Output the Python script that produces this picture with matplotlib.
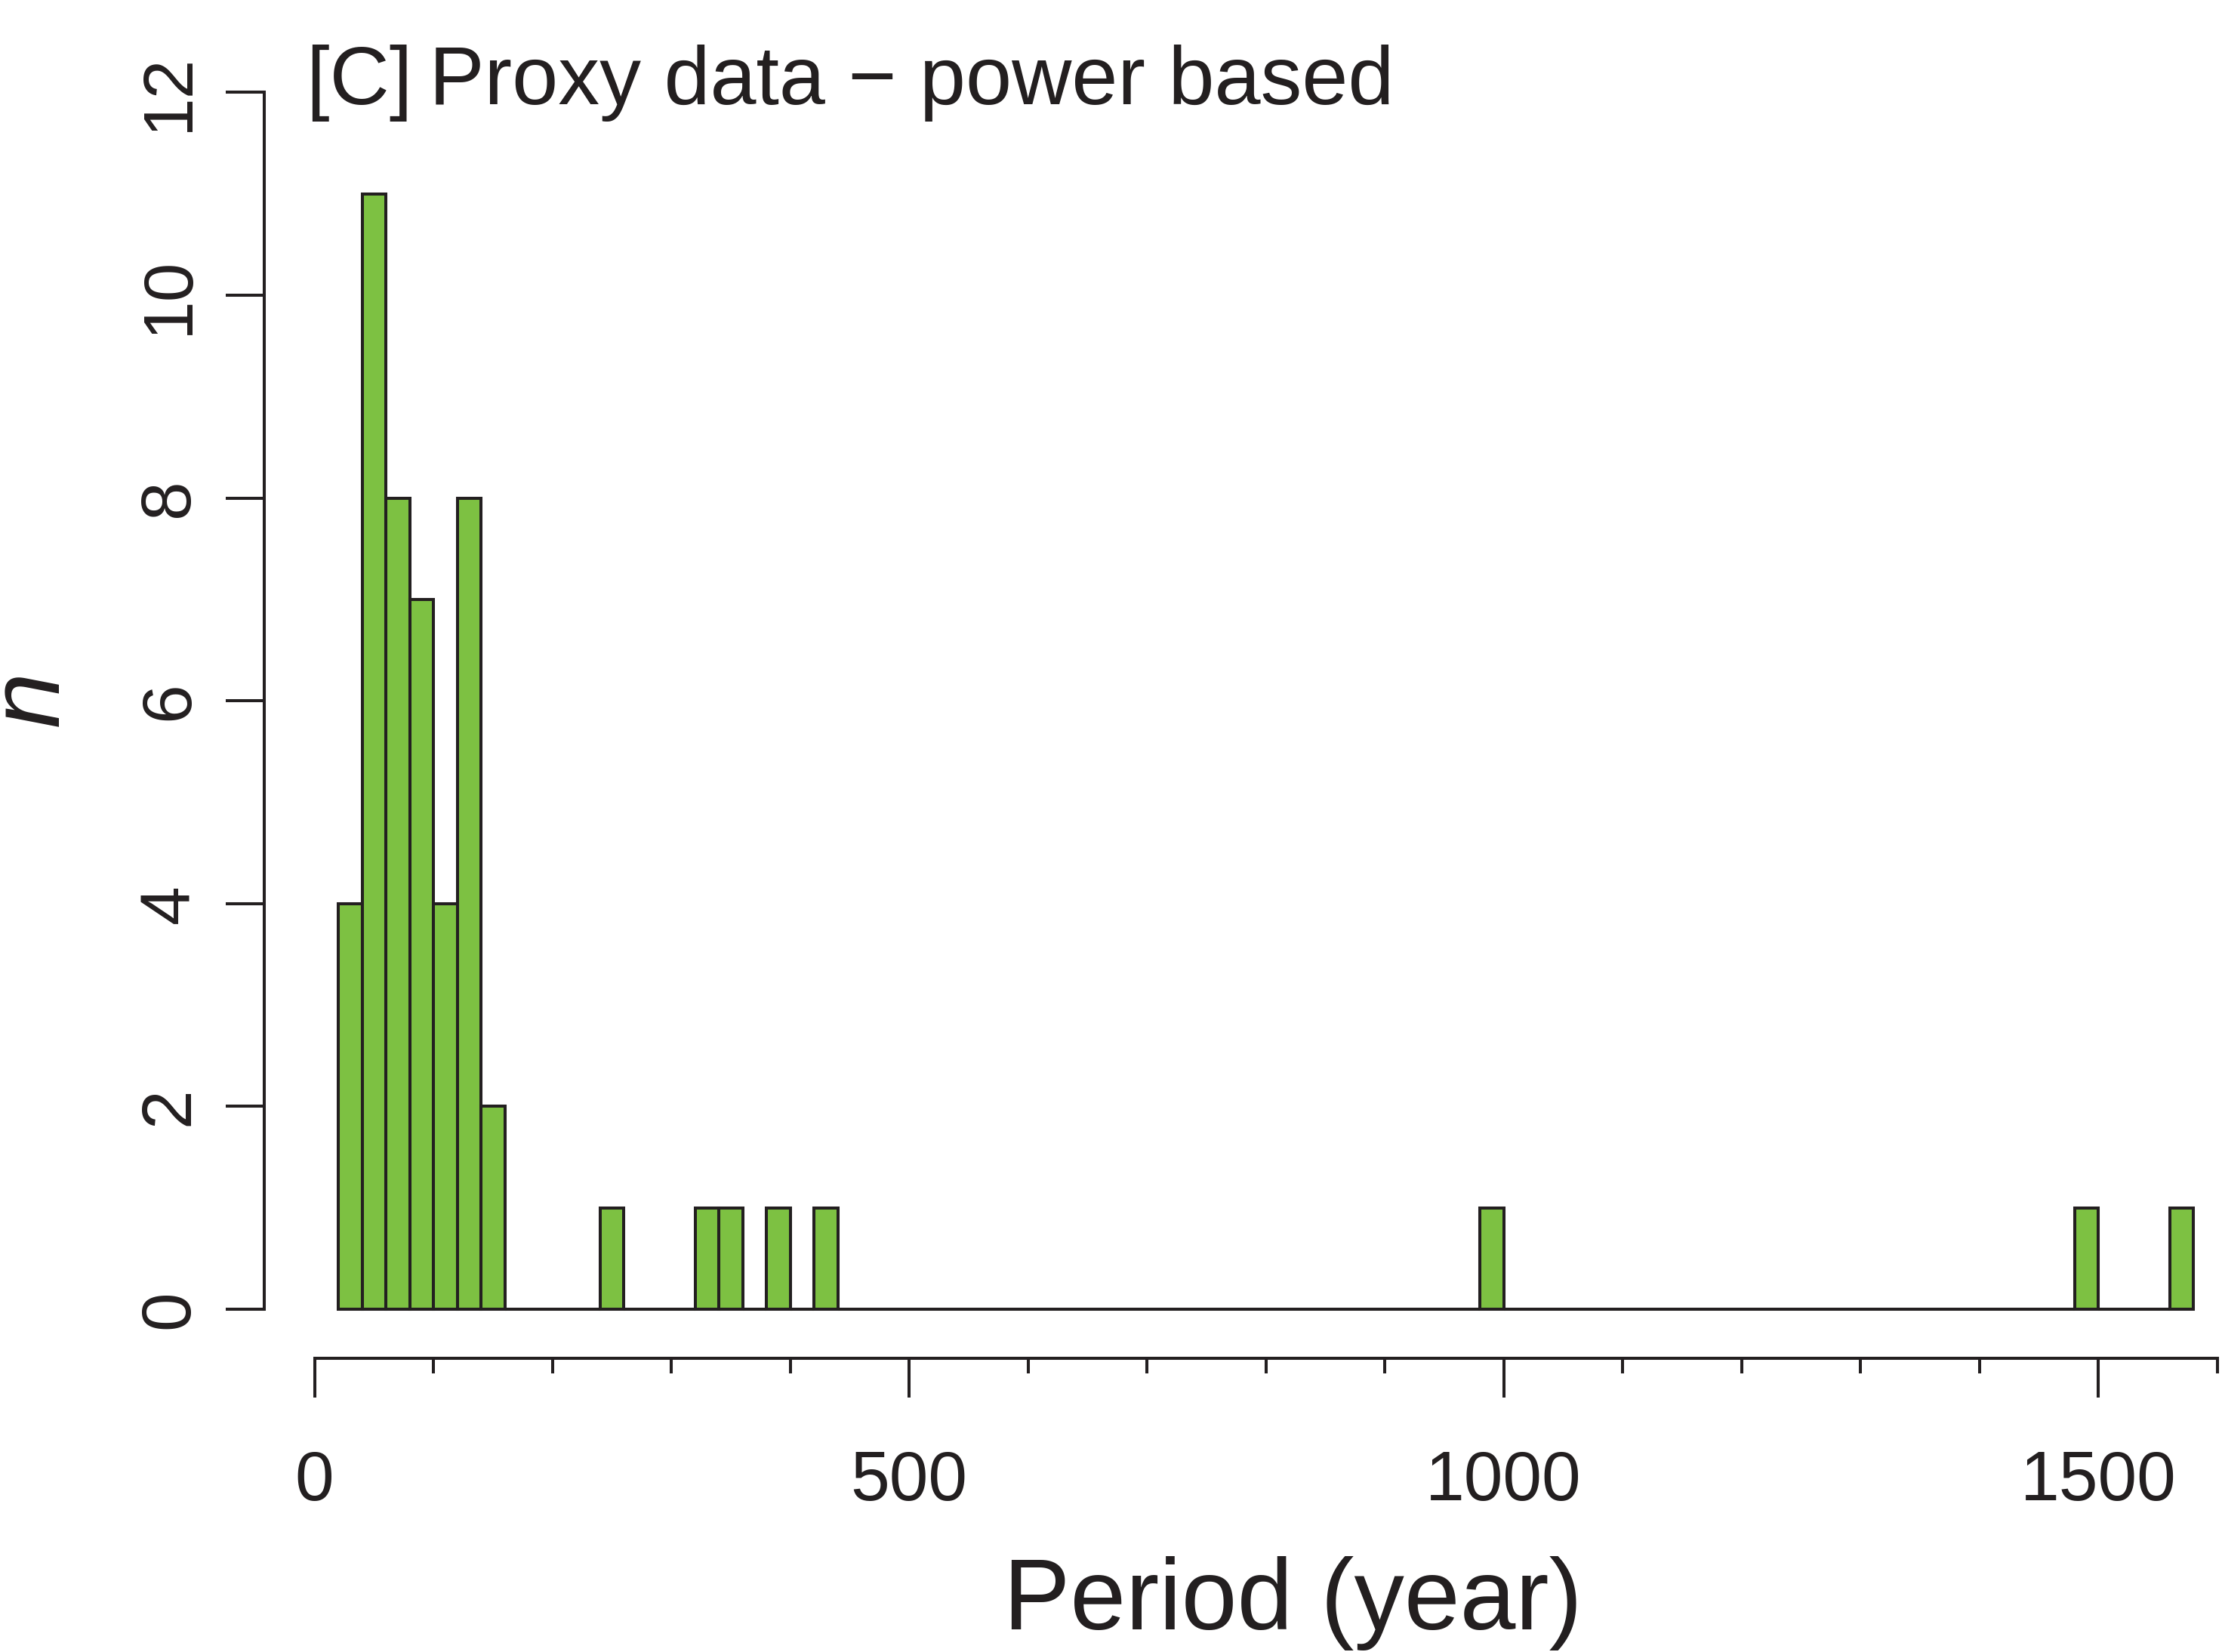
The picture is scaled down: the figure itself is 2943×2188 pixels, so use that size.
import numpy as np
import matplotlib
matplotlib.use("Agg")
import matplotlib.pyplot as plt

# ---- data ----
bin_width = 20
bin_start = 20
bin_end = 1580
nonzero_bin_left = [20, 40, 60, 80, 100, 120, 140, 240, 320, 340, 380, 420, 980, 1480, 1560]
nonzero_counts = [4, 11, 8, 7, 4, 8, 2, 1, 1, 1, 1, 1, 1, 1, 1]
x_major_ticks = [0, 500, 1000, 1500]
x_minor_ticks = [100, 200, 300, 400, 600, 700, 800, 900, 1100, 1200, 1300, 1400, 1600]
y_ticks = [0, 2, 4, 6, 8, 10, 12]
title = "[C]\u2009Proxy data \u2212 power based"
xlabel = "Period (year)"
ylabel = "n"

edges = np.arange(bin_start, bin_end, bin_width)
counts = np.zeros(len(edges))
for b, c in zip(nonzero_bin_left, nonzero_counts):
    counts[np.where(edges == b)[0][0]] = c

plt.rcParams['font.family'] = ['Liberation Sans', 'DejaVu Sans']

W, H = 2943, 2188
fig = plt.figure(figsize=(W / 100, H / 100), dpi=100)
fig.patch.set_facecolor('white')

left_px, right_px = 349.9, 3003.3
bottom_px, top_px = 1798.5, 58.0
ax = fig.add_axes([left_px / W, 1 - bottom_px / H, (right_px - left_px) / W, (bottom_px - top_px) / H])
ax.set_xlim(-42.4, 1642.4)
ax.set_ylim(-0.48, 12.48)

lw = 2.9
ax.bar(edges, counts, width=bin_width, align='edge', color='#7DC142',
       edgecolor='#231F20', linewidth=lw, clip_on=False)

for s in ['top', 'right']:
    ax.spines[s].set_visible(False)
ax.spines['left'].set_bounds(0, 12)
ax.spines['bottom'].set_bounds(0, 1600)
for s in ['left', 'bottom']:
    ax.spines[s].set_linewidth(lw)
    ax.spines[s].set_color('#231F20')
    ax.spines[s].set_capstyle('projecting')

ax.set_xticks(x_major_ticks)
ax.set_xticks(x_minor_ticks, minor=True)
ax.set_xticklabels([str(t) for t in x_major_ticks])
ax.set_yticks(y_ticks)
ax.set_yticklabels([str(t) for t in y_ticks], rotation=90, va='center')

ax.tick_params(axis='x', which='major', length=37.5, width=lw, color='#231F20',
               labelsize=67, pad=50, labelcolor='#231F20')
ax.tick_params(axis='x', which='minor', length=14.5, width=lw, color='#231F20')
ax.tick_params(axis='y', which='major', length=37, width=lw, color='#231F20',
               labelsize=67, pad=22, labelcolor='#231F20')

ax.set_facecolor('none')

fig.text(406 / W, 1 - 138 / H, title, fontsize=79, ha='left', va='baseline', color='#231F20')
fig.text(1712 / W, 1 - 2158 / H, xlabel, fontsize=95.5, ha='center', va='baseline', color='#231F20')
fig.text(77 / W, 1 - 925 / H, ylabel, fontsize=95.5, style='italic', rotation=90,
         rotation_mode='anchor', ha='center', va='baseline', color='#231F20')

fig.savefig('out.png', dpi=100, facecolor='white')
